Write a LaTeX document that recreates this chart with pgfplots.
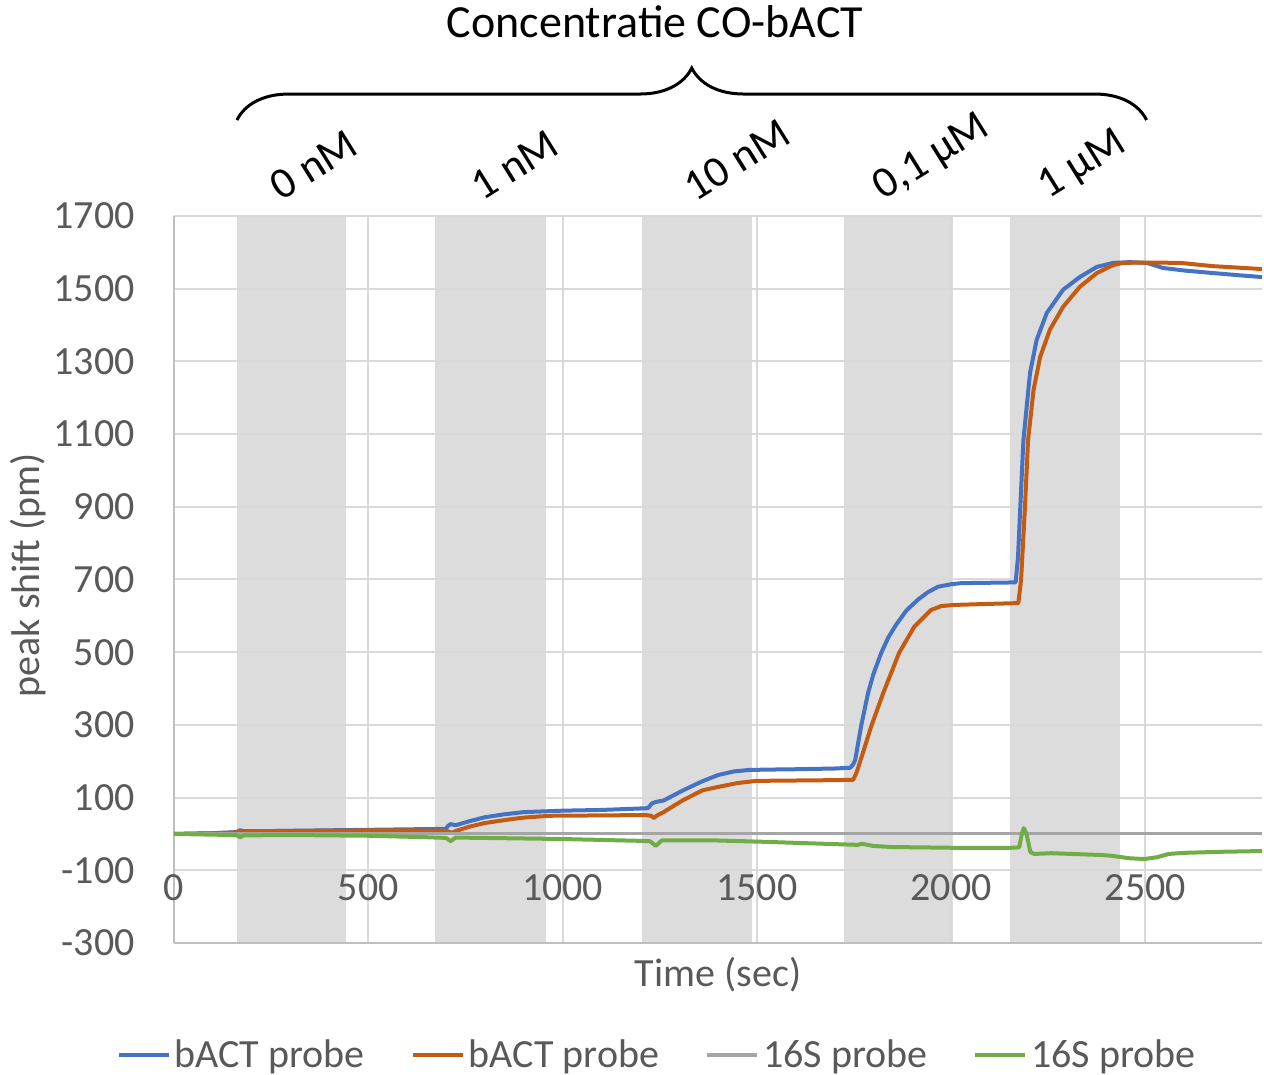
\documentclass[border=0pt]{standalone}
\usepackage{pgfplots}
\pgfplotsset{compat=1.18}
\usepackage{fontspec}
\setmainfont{Carlito}
\usetikzlibrary{decorations.pathreplacing,calc}
\definecolor{cblue}{HTML}{4472C4}
\definecolor{corange}{HTML}{C55A11}
\definecolor{cgray}{HTML}{A5A5A5}
\definecolor{cgreen}{HTML}{70AD47}
\definecolor{bandgray}{HTML}{DCDCDC}
\definecolor{gridgray}{HTML}{D9D9D9}
\definecolor{axisgray}{HTML}{BFBFBF}
\definecolor{txtgray}{HTML}{595959}
\newcommand{\fs}{\fontsize{20}{24}\selectfont}
\newcommand{\fb}{\fontsize{22}{26}\selectfont}
\newcommand{\ft}{\fontsize{23}{28}\selectfont}
\begin{document}
\begin{tikzpicture}
\begin{axis}[
  set layers,
  scale only axis, width=544pt, height=363.5pt,
  xmin=0, xmax=2800, ymin=-300, ymax=1700,
  xtick={0,500,...,2500}, ytick={-300,-100,...,1700},
  grid=major, major grid style={draw=gridgray, line width=1pt},
  axis x line*=bottom, axis y line*=left,
  axis line style={draw=axisgray, line width=1pt, -},
  tick style={draw=none},
  clip=false,
  /pgf/number format/assume math mode=true,
  /pgf/number format/1000 sep={},
  xticklabel style={font=\fs, text=txtgray, anchor=center, yshift=27.5pt},
  yticklabel style={font=\fs, text=txtgray, anchor=east, inner sep=0pt, xshift=-19.5pt},
  xlabel={Time (sec)}, ylabel={peak shift (pm)},
  xlabel style={font=\fs, text=txtgray, at={(axis description cs:0.5,-0.044)}, anchor=center},
  ylabel style={font=\fs, text=txtgray, at={(axis description cs:-0.134,0.506)}, anchor=center},
  legend style={at={(0.445,-0.154)}, anchor=center, draw=none, fill=none, legend columns=4,
    font=\fs, text=txtgray, nodes={inner xsep=2pt, inner ysep=1pt},
    /tikz/every even column/.append style={column sep=21pt}},
  legend image code/.code={\draw[#1, line width=2pt] (0pt,0pt) -- (25pt,0pt);},
  every axis plot/.append style={line width=2pt, line join=round, no markers},
]
\coordinate (ll) at (rel axis cs:0,0);
\coordinate (ur) at (rel axis cs:1,1);
% shaded concentration bands
\addplot[fill=bandgray, draw=none, forget plot, on layer=axis background] coordinates {(162,-300) (162,1700) (443,1700) (443,-300)} -- cycle;
\addplot[fill=bandgray, draw=none, forget plot, on layer=axis background] coordinates {(672,-300) (672,1700) (957,1700) (957,-300)} -- cycle;
\addplot[fill=bandgray, draw=none, forget plot, on layer=axis background] coordinates {(1204,-300) (1204,1700) (1487,1700) (1487,-300)} -- cycle;
\addplot[fill=bandgray, draw=none, forget plot, on layer=axis background] coordinates {(1724,-300) (1724,1700) (2005,1700) (2005,-300)} -- cycle;
\addplot[fill=bandgray, draw=none, forget plot, on layer=axis background] coordinates {(2151,-300) (2151,1700) (2434,1700) (2434,-300)} -- cycle;
% bACT probe (blue)
\addplot[cblue] coordinates {
(0,0) (100,2) (160,5) (170,10) (180,8) (250,8) (400,10) (550,12) (700,14) (705,22) (712,27) (725,24)
(760,35) (800,46) (850,54) (900,60) (1000,64) (1100,66) (1200,70) (1220,71) (1230,84) (1240,88) (1260,92)
(1312,121) (1360,145) (1400,162) (1441,172) (1480,176) (1528,177) (1600,178) (1700,180) (1740,182)
(1747,190) (1753,203) (1768,295) (1786,387) (1800,440) (1820,498) (1838,540) (1858,575) (1885,615)
(1915,645) (1940,665) (1966,680) (2000,687) (2026,690) (2100,691) (2166,692) (2172,760) (2178,900)
(2186,1084) (2203,1268) (2220,1359) (2246,1433) (2288,1497) (2331,1532) (2375,1560) (2417,1571)
(2460,1573) (2504,1571) (2545,1557) (2600,1550) (2674,1543) (2740,1537) (2800,1532)
};
\addlegendentry{bACT probe}
% bACT probe (orange)
\addplot[corange] coordinates {
(0,0) (100,2) (160,4) (170,7) (250,8) (400,9) (550,10) (700,9) (710,5) (715,3) (725,8) (760,20)
(800,30) (850,38) (900,45) (968,50) (1100,51) (1213,52) (1228,50) (1235,44) (1245,52) (1260,60)
(1290,80) (1312,94) (1360,120) (1399,129) (1450,140) (1500,146) (1600,147) (1700,148) (1748,149)
(1757,170) (1775,230) (1794,295) (1825,387) (1866,498) (1905,570) (1948,616) (1975,627) (2008,630)
(2100,633) (2173,635) (2180,700) (2190,900) (2198,1084) (2212,1221) (2229,1312) (2254,1387)
(2288,1450) (2331,1505) (2375,1543) (2417,1565) (2443,1571) (2500,1572) (2590,1571) (2674,1562)
(2800,1554)
};
\addlegendentry{bACT probe}
% 16S probe (gray)
\addplot[cgray, line width=1.5pt] coordinates {(0,0) (2800,0)};
\addlegendentry{16S probe}
% 16S probe (green)
\addplot[cgreen] coordinates {
(0,0) (100,-2) (160,-3) (170,-9) (180,-4) (300,-3) (500,-5) (650,-9) (700,-11) (712,-20) (725,-10)
(800,-11) (1000,-14) (1200,-19) (1225,-20) (1240,-33) (1255,-18) (1400,-18) (1530,-22) (1700,-28)
(1760,-30) (1770,-27) (1800,-33) (1845,-36) (2000,-38) (2155,-38) (2175,-37) (2182,0) (2187,16)
(2194,0) (2204,-50) (2214,-55) (2258,-53) (2387,-58) (2412,-60) (2460,-67) (2497,-69) (2530,-64)
(2560,-55) (2600,-52) (2700,-49) (2800,-47)
};
\addlegendentry{16S probe}
% annotations
\node[font=\ft, text=black] at (axis cs:1238,2234) {Concentratie CO-bACT};
\draw[decorate, decoration={brace, amplitude=26pt}, line width=1.5pt, black]
  (axis cs:162,1964) -- (axis cs:2503,1964);
\node[font=\fb, rotate=32] at (axis cs:360,1840) {0 nM};
\node[font=\fb, rotate=32] at (axis cs:877,1840) {1 nM};
\node[font=\fb, rotate=32] at (axis cs:1449,1854) {10 nM};
\node[font=\fb, rotate=32] at (axis cs:1951,1860) {0,1 µM};
\node[font=\fb, rotate=32] at (axis cs:2339,1840) {1 µM};
\end{axis}
\pgfresetboundingbox
\path ($(ll)+(-87pt,-66pt)$) rectangle ($(ur)+(1pt,108pt)$);
\end{tikzpicture}
\end{document}
